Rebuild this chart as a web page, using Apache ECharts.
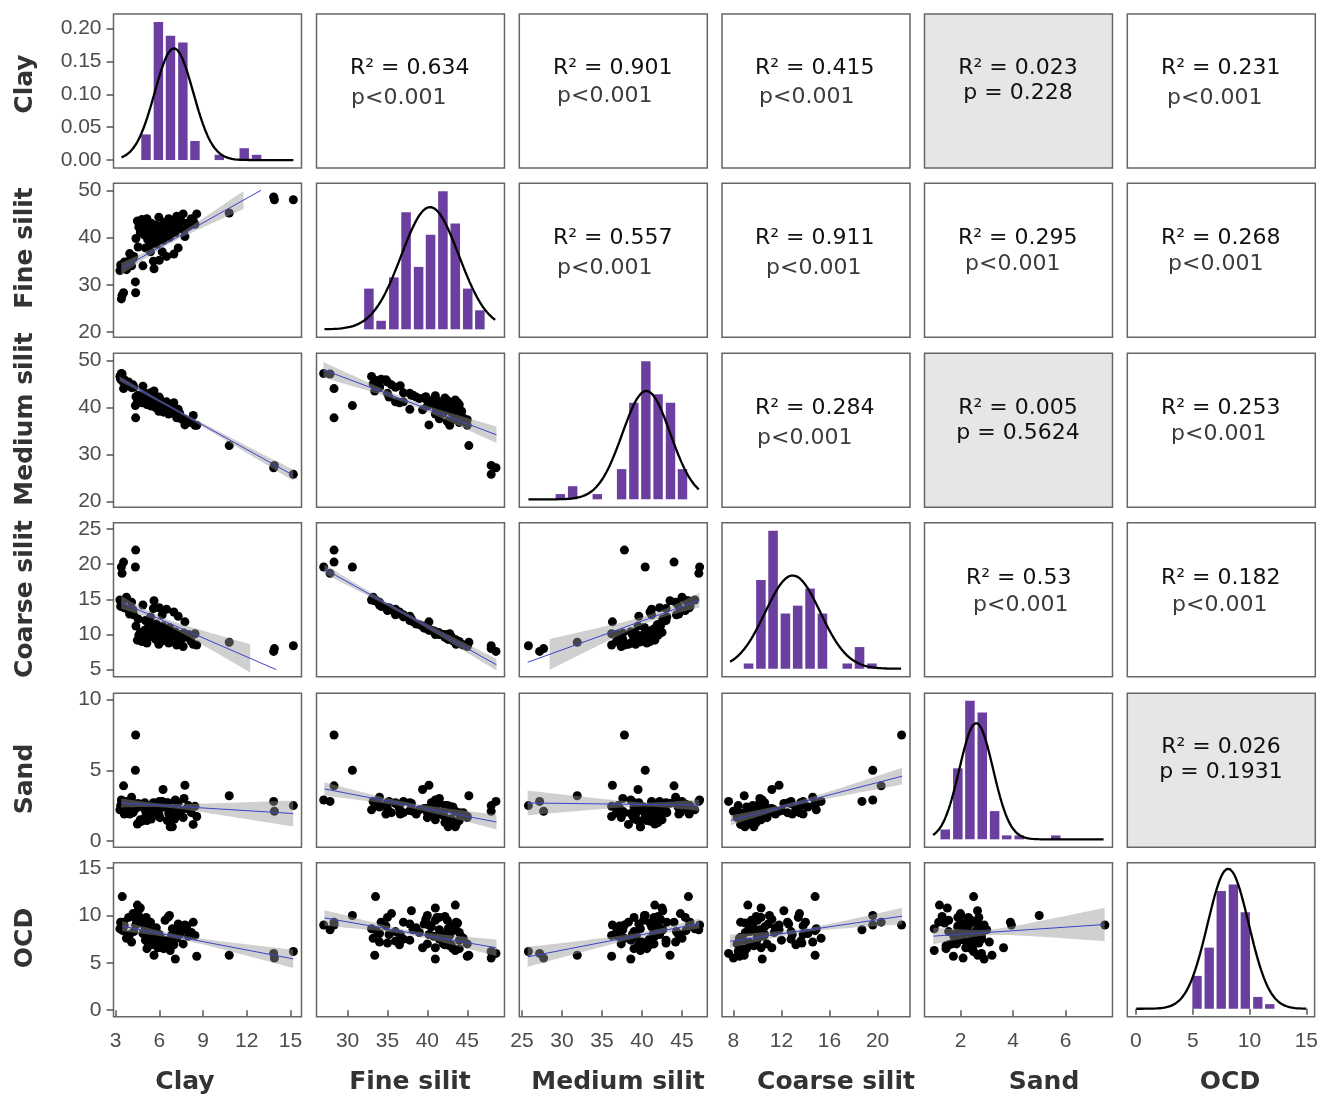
<!DOCTYPE html>
<html>
<head>
<meta charset="utf-8">
<script src="https://cdn.jsdelivr.net/npm/echarts@6/dist/echarts.min.js"></script>
<style>
  html, body { margin: 0; padding: 0; background: #fff; }
  #chart { width: 1321px; height: 1098px; }
</style>
</head>
<body>
<div id="chart"></div>
<script>
// one entry per soil sample
var clay = [3.30,3.35,3.50,3.60,3.75,3.90,3.97,4.10,4.20,4.40,4.50,4.60,4.70,4.80,4.88,4.95,5.00,5.05,5.10,5.15,
            5.20,5.25,5.30,5.35,5.40,5.45,5.50,5.55,5.64,5.70,5.75,5.80,5.90,5.97,6.00,6.05,6.10,6.20,6.26,6.30,
            6.40,6.50,6.55,6.60,6.65,6.70,6.75,6.85,6.90,7.00,7.05,7.10,7.20,7.30,7.40,7.50,7.64,7.70,7.76,7.90,
            8.00,8.20,8.33,8.45,8.57,4.25,4.55,5.60,
            3.40,3.45,3.55,4.38,4.36,10.8,13.85,13.9,15.2,3.46];
var fineSilt = [33.0,34.2,33.6,34.8,33.2,35.0,36.6,34.0,35.5,39.8,43.5,42.2,41.0,43.8,34.0,42.5,40.5,37.8,41.2,44.0,
            39.6,42.0,38.2,40.8,37.0,43.0,39.0,41.5,33.4,40.2,42.6,38.6,41.0,44.3,35.2,40.0,42.2,37.0,39.4,43.2,
            41.0,36.0,42.8,41.5,44.0,40.0,43.5,41.8,42.6,36.5,43.0,41.0,44.5,37.8,42.0,43.5,45.0,41.5,40.2,43.0,
            42.5,44.0,43.6,42.8,45.0,36.0,38.0,35.0,
            27.0,27.8,28.3,28.3,30.6,45.2,48.6,48.0,48.0,33.5];
var mediumSilt = [46.6,46.0,45.5,45.9,45.0,45.4,44.6,44.2,44.8,42.3,41.6,42.0,42.5,41.0,44.5,41.5,41.2,43.0,41.5,40.6,
            42.0,41.0,42.6,41.6,43.1,40.3,41.9,40.9,43.5,41.4,40.0,42.2,40.6,39.2,42.2,41.5,39.6,41.2,39.5,39.0,
            40.2,41.2,39.5,39.0,38.6,40.3,39.8,39.3,39.8,41.0,39.0,38.6,37.8,39.6,38.8,37.6,37.4,37.6,36.3,37.2,
            37.0,36.8,38.3,36.2,36.2,44.3,42.6,43.0,
            47.2,47.1,44.0,37.8,40.4,31.9,27.2,27.7,25.8,45.8];
var coarseSilt = [14.9,14.0,14.8,13.8,15.3,13.4,12.9,14.6,13.5,11.2,9.2,9.9,10.3,9.0,14.2,9.5,10.6,12.0,10.3,8.8,
            10.9,9.9,11.8,10.5,12.5,9.7,11.4,10.0,14.8,10.6,9.3,11.5,10.3,8.6,13.8,10.8,9.6,12.8,11.2,9.1,
            10.0,13.6,9.7,10.2,8.8,11.0,8.95,10.0,9.7,13.2,9.4,10.4,8.5,12.6,10.0,9.3,8.3,10.2,11.8,9.6,
            10.0,9.0,8.6,10.1,8.5,12.8,12.2,13.7,
            19.6,18.7,20.3,22.0,19.6,8.9,7.6,8.0,8.4,14.8];
var sand = [2.2,2.5,2.6,1.9,2.8,2.3,1.9,3.1,2.0,2.3,1.2,1.3,1.5,1.4,2.4,1.55,2.7,2.15,1.9,1.45,
            2.3,1.85,2.1,1.75,2.0,1.55,2.2,2.05,2.66,2.1,2.35,1.9,2.2,1.93,2.8,1.65,2.5,2.8,3.64,2.4,
            2.4,2.7,1.45,2.7,1.95,2.0,1.0,2.05,1.0,2.3,1.55,2.9,2.0,2.7,1.8,2.1,1.66,3.0,3.94,2.3,
            2.5,2.0,1.17,2.45,1.73,2.65,2.65,2.7,
            2.9,2.8,3.9,7.5,5.0,3.2,2.8,2.1,2.5,2.5];
var ocd = [8.6,9.3,8.4,8.9,7.6,9.8,8.0,7.2,10.2,9.6,11.1,9.9,10.8,9.2,8.1,9.5,8.8,7.4,9.8,6.5,
            9.1,7.0,8.5,7.8,9.3,6.9,8.2,7.5,5.8,8.0,7.2,8.7,6.6,7.7,8.0,7.0,6.9,7.5,6.6,6.5,
            9.5,7.3,6.8,9.8,7.4,10.0,6.3,7.9,8.6,6.9,8.3,5.4,7.6,9.1,8.0,8.8,7.0,8.5,9.0,8.9,
            7.8,8.2,9.3,7.9,5.7,8.3,10.5,7.1,
            9.0,8.5,9.3,9.0,10.0,5.8,6.0,5.5,6.2,12.0];

var varNames = ['Clay', 'Fine silit', 'Medium silit', 'Coarse silit', 'Sand', 'OCD'];
var variables = [clay, fineSilt, mediumSilt, coarseSilt, sand, ocd];

// tick labels
var axisTicks = [[3, 6, 9, 12, 15], [30, 35, 40, 45], [25, 30, 35, 40, 45], [8, 12, 16, 20], [2, 4, 6], [0, 5, 10, 15]];
var rowTicks = [[0, 0.05, 0.10, 0.15, 0.20], [20, 30, 40, 50], [20, 30, 40, 50], [5, 10, 15, 20, 25], [0, 5, 10], [0, 5, 10, 15]];

// histograms on the diagonal (bin centre, density)
var histCenters = [
  [5.09, 5.94, 6.77, 7.62, 8.45, 10.12, 11.83, 12.68],
  [32.67, 34.2, 35.8, 37.33, 38.9, 40.4, 41.95, 43.5, 45.06, 46.58],
  [29.79, 31.33, 34.41, 37.45, 38.98, 40.48, 42.01, 43.56, 45.06],
  [9.26, 10.29, 11.30, 12.33, 13.35, 14.38, 15.41, 17.48, 18.50, 19.53],
  [1.42, 1.90, 2.36, 2.83, 3.30, 3.76, 4.24, 5.63],
  [5.38, 6.45, 7.51, 8.58, 9.63, 10.73, 11.78]
];
var histHeights = [
  [0.039, 0.210, 0.189, 0.179, 0.029, 0.008, 0.018, 0.008],
  [0.062, 0.013, 0.079, 0.178, 0.095, 0.144, 0.210, 0.161, 0.062, 0.029],
  [0.008, 0.020, 0.008, 0.046, 0.147, 0.210, 0.160, 0.147, 0.046],
  [0.008, 0.135, 0.210, 0.084, 0.096, 0.122, 0.084, 0.008, 0.033, 0.008],
  [0.015, 0.108, 0.211, 0.193, 0.043, 0.006, 0.006, 0.006],
  [0.050, 0.093, 0.179, 0.189, 0.147, 0.018, 0.007]
];
var binWidth = [0.84, 1.55, 1.53, 1.03, 0.47, 1.07];

// normal curves: mean, sd, peak height, x from, x to
var curveMean = [7.01, 40.34, 40.54, 12.94, 2.60, 8.12];
var curveSd = [1.32, 3.6, 3.0, 2.29, 0.64, 1.81];
var curvePeak = [0.170, 0.186, 0.165, 0.142, 0.177, 0.213];
var curveFrom = [3.41, 27.1, 25.8, 7.72, 0.96, 0.03];
var curveTo = [15.2, 48.5, 47.1, 21.96, 7.45, 15.0];

// lm fits: row, col, x0, y0, x1, y1
var fits = [
  [1, 0, 3.39, 33.4, 12.98, 50.0],
  [2, 0, 3.28, 46.1, 15.19, 25.6],
  [3, 0, 3.39, 14.57, 14.03, 5.0],
  [4, 0, 3.39, 2.69, 15.19, 1.94],
  [5, 0, 3.46, 8.87, 15.19, 5.42],
  [2, 1, 26.97, 48.0, 48.66, 34.2],
  [3, 1, 27.1, 19.3, 48.66, 5.7],
  [4, 1, 27.1, 3.68, 48.66, 1.34],
  [5, 1, 27.1, 9.75, 48.66, 6.59],
  [3, 2, 25.7, 6.05, 47.16, 14.86],
  [4, 2, 25.7, 2.69, 47.16, 2.53],
  [5, 2, 25.7, 5.63, 47.16, 9.15],
  [4, 3, 7.78, 1.46, 22.04, 4.58],
  [5, 3, 7.72, 7.28, 22.04, 9.93],
  [5, 4, 0.96, 7.82, 7.49, 9.05]
];
// confidence bands: from, to, half width at from, narrowest half width, half width at to
var bands = [
  [3.39, 11.78, 1.24, 0.45, 1.9],
  [3.28, 15.19, 0.55, 0.25, 1.17],
  [3.39, 12.24, 0.9, 0.4, 2.0],
  [3.39, 15.19, 0.32, 0.13, 0.92],
  [3.46, 15.19, 0.53, 0.22, 0.97],
  [26.97, 48.66, 1.66, 0.5, 1.77],
  [27.1, 48.66, 0.66, 0.25, 0.83],
  [27.1, 48.66, 0.47, 0.18, 0.53],
  [27.1, 48.66, 0.83, 0.25, 0.88],
  [28.45, 47.16, 2.2, 0.5, 1.04],
  [25.7, 47.16, 0.88, 0.15, 0.41],
  [25.7, 47.16, 1.06, 0.25, 0.53],
  [7.78, 22.04, 0.35, 0.15, 0.59],
  [7.72, 22.04, 0.7, 0.2, 0.88],
  [0.96, 7.49, 0.88, 0.3, 1.76]
];

// upper panels: row, col, R², p
var statCells = [
  [0, 1, '0.634', '<0.001'], [0, 2, '0.901', '<0.001'], [0, 3, '0.415', '<0.001'], [0, 4, '0.023', '0.228'], [0, 5, '0.231', '<0.001'],
  [1, 2, '0.557', '<0.001'], [1, 3, '0.911', '<0.001'], [1, 4, '0.295', '<0.001'], [1, 5, '0.268', '<0.001'],
  [2, 3, '0.284', '<0.001'], [2, 4, '0.005', '0.5624'], [2, 5, '0.253', '<0.001'],
  [3, 4, '0.53', '<0.001'], [3, 5, '0.182', '<0.001'],
  [4, 5, '0.026', '0.1931']
];

// ---- layout ----
var colLeft = [113.5, 316.5, 519.3, 722, 924.5, 1127.3];
var rowTop = [14, 183.3, 353.3, 522.7, 693.3, 862.7];
var panelW = 188, panelH = 154;
var xRange = [[2.86, 15.76], [26.1, 49.67], [24.66, 48.16], [7.05, 22.7], [0.63, 7.79], [-0.76, 15.73]];
var yRange = [[-0.0121, 0.2222], [18.88, 51.48], [18.8, 51.5], [4.0, 25.9], [-0.45, 10.45], [-0.69, 15.58]];
var densRange = [-0.0121, 0.2222];
// stat text positions: R² x, R² y, p x, p y
var statPos = [
  [350, 68, 351, 98], [553, 68, 557, 96], [755, 68, 759, 97], [1018, 68, 1018, 93], [1161, 68, 1167, 98],
  [553, 238, 557, 268], [755, 238, 766, 268], [958, 238, 965, 264], [1161, 238, 1168, 264],
  [755, 408, 757, 438], [1018, 408, 1018, 433], [1161, 408, 1171, 434],
  [966, 578, 973, 605], [1161, 578, 1172, 605],
  [1221, 747, 1221, 772]
];
var rowLabelY = [84, 248, 419, 599, 779, 938];
var colLabelX = [185, 410, 618, 836, 1044, 1230];

var tickColor = '#555';
var labelColor = '#4d4d4d';
var purple = '#6b3fa0';

var grids = [], xAxes = [], yAxes = [], series = [];

function gIndex(i, j) { return i * 6 + j; }

function isGrey(i, j) {
  for (var k = 0; k < statCells.length; k++) {
    if (statCells[k][0] === i && statCells[k][1] === j) return statCells[k][3].charAt(0) !== '<';
  }
  return false;
}

for (var i = 0; i < 6; i++) {
  for (var j = 0; j < 6; j++) {
    var g = gIndex(i, j);
    grids.push({
      left: colLeft[j], top: rowTop[i], width: panelW, height: panelH,
      show: true, borderColor: '#666', borderWidth: 1.5,
      backgroundColor: isGrey(i, j) ? '#e5e6e8' : '#fff'
    });
    xAxes.push({
      gridIndex: g, type: 'value', min: xRange[j][0], max: xRange[j][1],
      show: i === 5,
      axisLine: { show: false },
      splitLine: { show: false },
      axisTick: { show: true, length: 6, lineStyle: { color: tickColor, width: 1.5 }, customValues: axisTicks[j] },
      axisLabel: { customValues: axisTicks[j], color: labelColor, fontSize: 21, fontFamily: 'Liberation Sans', margin: 14 }
    });
    var yr = (i === j) ? densRange : yRange[i];
    yAxes.push({
      gridIndex: g, type: 'value', min: yr[0], max: yr[1],
      show: j === 0,
      axisLine: { show: false },
      splitLine: { show: false },
      axisTick: { show: true, length: 7, lineStyle: { color: tickColor, width: 1.5 }, customValues: rowTicks[i] },
      axisLabel: {
        customValues: rowTicks[i], color: labelColor, fontSize: 21, fontFamily: 'Liberation Sans', margin: 12,
        formatter: i === 0 ? function (v) { return v.toFixed(2); } : function (v) { return String(v); }
      }
    });
  }
}

// scatter panels (lower triangle)
for (var i = 1; i < 6; i++) {
  for (var j = 0; j < i; j++) {
    var g = gIndex(i, j);
    var pts = variables[j].map(function (v, k) { return [v, variables[i][k]]; });
    series.push({
      type: 'scatter', xAxisIndex: g, yAxisIndex: g, data: pts,
      symbolSize: 9, itemStyle: { color: '#000', opacity: 1 }, z: 2, silent: true
    });
  }
}

// fit lines and bands
fits.forEach(function (f, n) {
  var g = gIndex(f[0], f[1]);
  var slope = (f[5] - f[3]) / (f[4] - f[2]);
  var x0 = f[2], y0 = f[3];
  series.push({
    type: 'custom', xAxisIndex: g, yAxisIndex: g, z: 3, silent: true, clip: true,
    data: [bands[n]],
    renderItem: function (params, api) {
      var a = api.value(0), b = api.value(1), h0 = api.value(2), hm = api.value(3), h1 = api.value(4);
      var d0 = Math.sqrt(Math.max(h0 * h0 - hm * hm, 0));
      var d1 = Math.sqrt(Math.max(h1 * h1 - hm * hm, 0));
      var k = (d0 + d1) / (b - a);
      var xbar = k > 0 ? a + d0 / k : a;
      var up = [], lo = [];
      var steps = 40;
      for (var s = 0; s <= steps; s++) {
        var x = a + (b - a) * s / steps;
        var yc = y0 + slope * (x - x0);
        var h = Math.sqrt(hm * hm + k * k * (x - xbar) * (x - xbar));
        up.push(api.coord([x, yc + h]));
        lo.unshift(api.coord([x, yc - h]));
      }
      return {
        type: 'polygon',
        shape: { points: up.concat(lo) },
        style: { fill: 'rgba(150,150,150,0.45)' }
      };
    }
  });
  series.push({
    type: 'line', xAxisIndex: g, yAxisIndex: g, z: 4, silent: true,
    data: [[f[2], f[3]], [f[4], f[5]]], symbol: 'none',
    lineStyle: { color: '#3a44c8', width: 1 }
  });
});

// diagonal histograms + normal curves
for (var d = 0; d < 6; d++) {
  var g = gIndex(d, d);
  series.push({
    type: 'custom', xAxisIndex: g, yAxisIndex: g, z: 2, silent: true,
    data: histCenters[d].map(function (c, k) { return [c, histHeights[d][k], binWidth[d]]; }),
    renderItem: function (params, api) {
      var c = api.value(0), h = api.value(1), w = api.value(2);
      var p0 = api.coord([c - w / 2, h]);
      var p1 = api.coord([c + w / 2, 0]);
      return {
        type: 'rect',
        shape: { x: p0[0] + 1.4, y: p0[1], width: p1[0] - p0[0] - 2.8, height: p1[1] - p0[1] },
        style: { fill: purple }
      };
    }
  });
  var curve = [];
  var n = 120;
  for (var s = 0; s <= n; s++) {
    var x = curveFrom[d] + (curveTo[d] - curveFrom[d]) * s / n;
    var z = (x - curveMean[d]) / curveSd[d];
    curve.push([x, curvePeak[d] * Math.exp(-0.5 * z * z)]);
  }
  series.push({
    type: 'line', xAxisIndex: g, yAxisIndex: g, z: 3, silent: true,
    data: curve, symbol: 'none', lineStyle: { color: '#000', width: 2.3 }
  });
}

// text: stats, row labels, column titles
var graphics = [];
statCells.forEach(function (c, n) {
  var p = statPos[n];
  var grey = c[3].charAt(0) !== '<';
  graphics.push({
    type: 'text', x: p[0], y: p[1], silent: true,
    style: { text: 'R\u00b2 = ' + c[2], font: '22px "DejaVu Sans"', fill: '#111',
             textAlign: grey ? 'center' : 'left', textVerticalAlign: 'middle' }
  });
  graphics.push({
    type: 'text', x: p[2], y: p[3], silent: true,
    style: { text: grey ? 'p = ' + c[3] : 'p' + c[3], font: '22px "DejaVu Sans"', fill: grey ? '#111' : '#3c3c3c',
             textAlign: grey ? 'center' : 'left', textVerticalAlign: 'middle' }
  });
});
varNames.forEach(function (name, k) {
  graphics.push({
    type: 'text', x: 25, y: rowLabelY[k], rotation: Math.PI / 2, silent: true,
    style: { text: name, font: 'bold 25px "DejaVu Sans"', fill: '#333', textAlign: 'center', textVerticalAlign: 'middle' }
  });
  graphics.push({
    type: 'text', x: colLabelX[k], y: 1082, silent: true,
    style: { text: name, font: 'bold 25px "DejaVu Sans"', fill: '#333', textAlign: 'center', textVerticalAlign: 'middle' }
  });
});

var option = {
  animation: false,
  backgroundColor: '#fff',
  grid: grids,
  xAxis: xAxes,
  yAxis: yAxes,
  series: series,
  graphic: { elements: graphics }
};
echarts.init(document.getElementById('chart')).setOption(option);
</script>
</body>
</html>
